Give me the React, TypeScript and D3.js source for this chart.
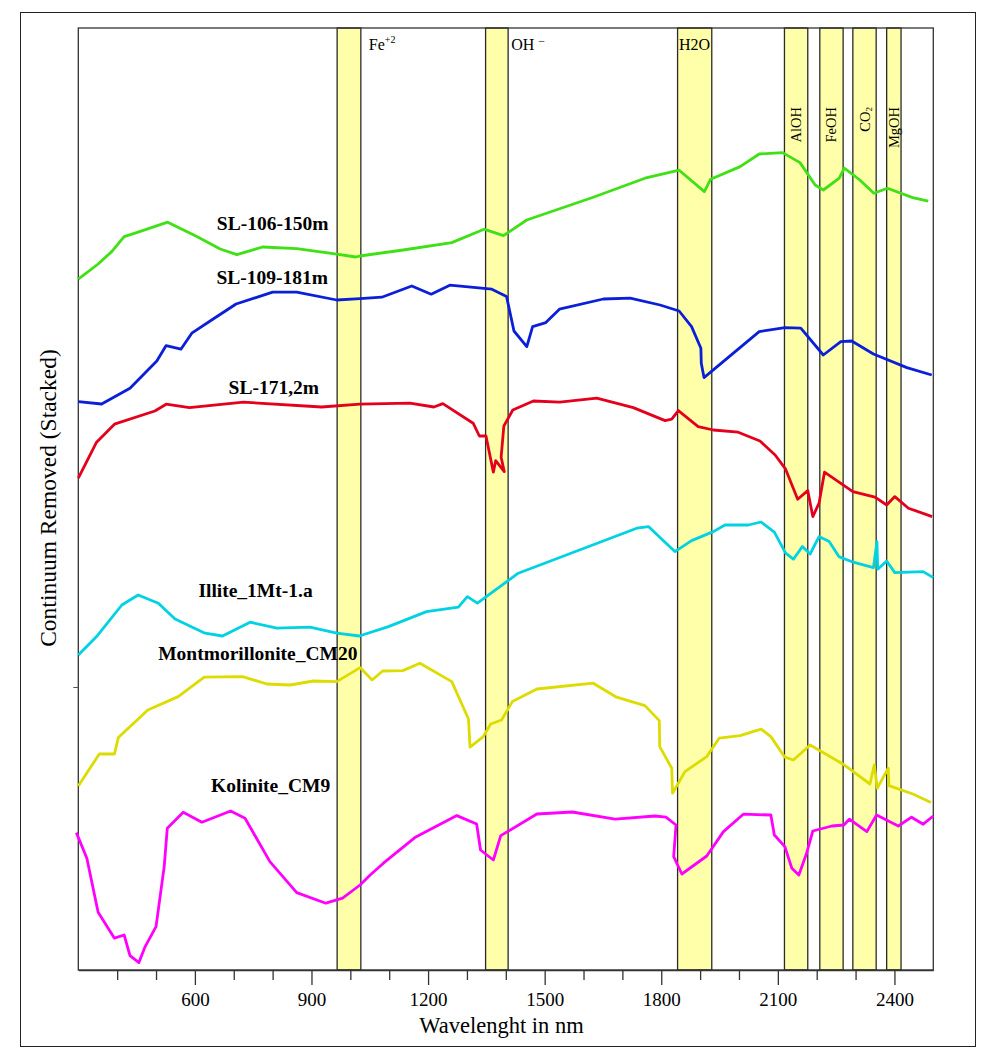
import React, { useEffect, useRef } from 'react';
import * as d3 from 'd3';

// spectra, [wavelength nm, stacked continuum-removed value]
const sl106 = [
  [300, 3.454], [351, 3.53], [386, 3.592], [418, 3.667], [450, 3.687], [530, 3.739],
  [605, 3.667], [665, 3.605], [708, 3.577], [774, 3.615], [862, 3.607], [965, 3.579],
  [1014, 3.565], [1025, 3.57], [1136, 3.6], [1261, 3.637], [1344, 3.704], [1394, 3.672],
  [1454, 3.75], [1625, 3.864], [1758, 3.959], [1846, 3.999], [1911, 3.892], [1927, 3.954],
  [2003, 4.017], [2052, 4.08], [2112, 4.087], [2157, 4.037], [2196, 3.925], [2217, 3.9],
  [2258, 3.959], [2271, 4.009], [2311, 3.95], [2347, 3.884], [2382, 3.909], [2447, 3.862],
  [2487, 3.844],
];
const sl109 = [
  [300, 2.842], [360, 2.83], [433, 2.909], [502, 3.045], [526, 3.122], [564, 3.104],
  [592, 3.184], [647, 3.255], [706, 3.33], [800, 3.389], [862, 3.389], [965, 3.35],
  [1025, 3.357], [1081, 3.364], [1158, 3.42], [1208, 3.379], [1256, 3.424], [1364, 3.404],
  [1402, 3.367], [1421, 3.195], [1454, 3.117], [1469, 3.217], [1503, 3.237], [1538, 3.304],
  [1651, 3.355], [1720, 3.359], [1797, 3.325], [1846, 3.295], [1878, 3.217], [1902, 3.109],
  [1903, 3.034], [1910, 2.962], [2052, 3.192], [2118, 3.212], [2159, 3.209], [2217, 3.075],
  [2262, 3.142], [2290, 3.145], [2346, 3.08], [2432, 3.012], [2496, 2.975],
];
const sl171 = [
  [300, 2.459], [347, 2.639], [393, 2.729], [497, 2.795], [526, 2.829], [586, 2.812],
  [725, 2.839], [926, 2.815], [1025, 2.829], [1153, 2.834], [1215, 2.815], [1238, 2.832],
  [1316, 2.734], [1332, 2.67], [1349, 2.67], [1368, 2.489], [1374, 2.547], [1396, 2.492],
  [1388, 2.564], [1395, 2.72], [1418, 2.8], [1471, 2.845], [1539, 2.839], [1634, 2.859],
  [1728, 2.812], [1810, 2.747], [1827, 2.754], [1844, 2.797], [1895, 2.717], [1934, 2.7],
  [1998, 2.689], [2054, 2.645], [2093, 2.575], [2120, 2.504], [2151, 2.354], [2177, 2.397],
  [2190, 2.267], [2206, 2.334], [2220, 2.489], [2293, 2.392], [2350, 2.364], [2380, 2.325],
  [2401, 2.367], [2436, 2.309], [2497, 2.267],
];
const illite = [
  [300, 1.575], [347, 1.667], [412, 1.825], [454, 1.875], [506, 1.834], [549, 1.755],
  [626, 1.684], [671, 1.67], [742, 1.739], [811, 1.709], [896, 1.714], [965, 1.684],
  [1023, 1.67], [1098, 1.717], [1196, 1.792], [1278, 1.814], [1301, 1.867], [1327, 1.834],
  [1432, 1.984], [1737, 2.209], [1767, 2.217], [1835, 2.092], [1878, 2.147], [1934, 2.192],
  [1964, 2.225], [2024, 2.225], [2057, 2.24], [2091, 2.189], [2120, 2.084], [2140, 2.054],
  [2163, 2.117], [2183, 2.08], [2206, 2.167], [2232, 2.142], [2257, 2.067], [2294, 2.039],
  [2346, 2.012], [2355, 2.142], [2357, 2.004], [2380, 2.045], [2401, 1.987], [2474, 1.992],
  [2500, 1.962],
];
const montmorillonite = [
  [300, 0.92], [354, 1.08], [393, 1.08], [403, 1.162], [479, 1.3], [557, 1.367],
  [624, 1.464], [723, 1.467], [785, 1.43], [845, 1.425], [905, 1.445], [965, 1.442],
  [1025, 1.512], [1056, 1.45], [1083, 1.495], [1135, 1.497], [1179, 1.534], [1261, 1.442],
  [1304, 1.255], [1308, 1.114], [1342, 1.167], [1361, 1.23], [1389, 1.25], [1417, 1.342],
  [1480, 1.405], [1625, 1.434], [1685, 1.364], [1758, 1.322], [1795, 1.247], [1796, 1.117],
  [1827, 1.009], [1829, 0.884], [1861, 0.992], [1917, 1.067], [1949, 1.159], [2003, 1.172],
  [2057, 1.204], [2082, 1.167], [2118, 1.064], [2140, 1.05], [2183, 1.125], [2268, 1.029],
  [2337, 0.93], [2348, 1.025], [2356, 0.909], [2384, 1.009], [2386, 0.922], [2449, 0.879],
  [2494, 0.837],
];
const kolinite = [
  [295, 0.687], [322, 0.559], [351, 0.289], [393, 0.159], [418, 0.175], [433, 0.072],
  [456, 0.037], [472, 0.117], [500, 0.217], [521, 0.517], [529, 0.709], [570, 0.789],
  [618, 0.739], [692, 0.795], [729, 0.759], [793, 0.542], [862, 0.387], [937, 0.334],
  [980, 0.359], [1025, 0.425], [1051, 0.475], [1085, 0.534], [1166, 0.662], [1274, 0.772],
  [1325, 0.73], [1335, 0.6], [1368, 0.55], [1387, 0.672], [1480, 0.78], [1571, 0.79],
  [1681, 0.754], [1784, 0.77], [1812, 0.764], [1838, 0.725], [1832, 0.567], [1853, 0.48],
  [1917, 0.57], [1960, 0.692], [2011, 0.779], [2082, 0.775], [2091, 0.675], [2118, 0.617],
  [2136, 0.509], [2154, 0.475], [2174, 0.584], [2190, 0.695], [2239, 0.72], [2270, 0.725],
  [2284, 0.754], [2329, 0.692], [2354, 0.775], [2410, 0.72], [2444, 0.764], [2474, 0.729],
  [2500, 0.77],
];

const seriesNames = ['SL-106-150m', 'SL-109-181m', 'SL-171,2m', 'Illite_1Mt-1.a', 'Montmorillonite_CM20', 'Kolinite_CM9'];
const seriesData = [sl106, sl109, sl171, illite, montmorillonite, kolinite];
const seriesColors = ['#3fe014', '#0b1fd8', '#e4001c', '#00d2e2', '#dcdc00', '#ff00ff'];

// absorption features
const bandNames = ['Fe', 'OH', 'H2O', 'AlOH', 'FeOH', 'CO2', 'MgOH'];
const bandStart = [966, 1348, 1842, 2117, 2208, 2293, 2380];
const bandEnd = [1027, 1406, 1930, 2177, 2268, 2353, 2417];

const majorTicks = [600, 900, 1200, 1500, 1800, 2100, 2400];
const minorTicks = [400, 500, 700, 800, 1000, 1100, 1300, 1400, 1600, 1700, 1900, 2000, 2200, 2300];

const W = 991;
const H = 1054;
const FONT = "'Liberation Serif', 'Times New Roman', serif";

export default function App() {
  const svgRef = useRef(null);

  useEffect(() => {
    const svg = d3.select(svgRef.current);
    svg.selectAll('*').remove();

    const left = 78.3, right = 933.3, top = 28, bottom = 970;
    const x = d3.scaleLinear().domain([300, 2500]).range([left, right]);
    const y = d3.scaleLinear().domain([0, 4.71]).range([bottom, top]);

    // outer frame
    svg.append('rect')
      .attr('x', 20.5).attr('y', 12.5)
      .attr('width', 955).attr('height', 1034)
      .attr('fill', 'none').attr('stroke', '#222').attr('stroke-width', 1);

    // bands
    const bands = svg.append('g');
    bandNames.forEach((n, i) => {
      bands.append('rect')
        .attr('x', x(bandStart[i]))
        .attr('y', top)
        .attr('width', x(bandEnd[i]) - x(bandStart[i]))
        .attr('height', bottom - top)
        .attr('fill', '#ffffaa')
        .attr('stroke', '#2a2a2a')
        .attr('stroke-width', 1.3);
    });

    // plot box
    svg.append('rect')
      .attr('x', left).attr('y', top)
      .attr('width', right - left).attr('height', bottom - top)
      .attr('fill', 'none').attr('stroke', '#333').attr('stroke-width', 1.3);

    // spectra
    const line = d3.line()
      .x(d => x(d[0]))
      .y(d => y(d[1]));

    seriesData.forEach((s, i) => {
      svg.append('path')
        .datum(s)
        .attr('fill', 'none')
        .attr('stroke', seriesColors[i])
        .attr('stroke-width', 2.8)
        .attr('stroke-linejoin', 'round')
        .attr('d', line);
    });

    // series labels
    const labelPos = [[800, 3.70], [799, 3.43], [803, 2.88], [756, 1.867], [762, 1.548], [795, 0.89]];
    seriesNames.forEach((n, i) => {
      svg.append('text')
        .attr('x', x(labelPos[i][0]))
        .attr('y', y(labelPos[i][1]))
        .attr('text-anchor', 'middle')
        .attr('font-family', FONT)
        .attr('font-weight', 'bold')
        .attr('font-size', 19.5)
        .text(n);
    });

    // band labels (horizontal)
    const fe = svg.append('text')
      .attr('x', x(bandEnd[0]) + 8).attr('y', 50)
      .attr('font-family', FONT).attr('font-size', 16);
    fe.append('tspan').text('Fe');
    fe.append('tspan').attr('font-size', 10).attr('dy', -7).text('+2');

    const oh = svg.append('text')
      .attr('x', x(bandEnd[1]) + 3).attr('y', 50)
      .attr('font-family', FONT).attr('font-size', 16);
    oh.append('tspan').text('OH ');
    oh.append('tspan').attr('font-size', 12).attr('dy', -5).text('\u2212');

    svg.append('text')
      .attr('x', x(bandStart[2]) + 1.5).attr('y', 50)
      .attr('font-family', FONT).attr('font-size', 16)
      .text('H2O');

    // band labels (rotated)
    [3, 4, 5, 6].forEach(i => {
      const cx = (x(bandStart[i]) + x(bandEnd[i])) / 2 + 5;
      const t = svg.append('text')
        .attr('transform', `translate(${cx},107) rotate(-90)`)
        .attr('text-anchor', 'end')
        .attr('font-family', FONT)
        .attr('font-size', 14.5);
      if (bandNames[i] === 'CO2') {
        t.append('tspan').text('CO');
        t.append('tspan').attr('font-size', 9).attr('dy', 2).text('2');
      } else {
        t.text(bandNames[i]);
      }
    });

    // x axis
    const axisMajor = d3.axisBottom(x)
      .tickValues(majorTicks)
      .tickSize(15)
      .tickSizeOuter(0)
      .tickPadding(8)
      .tickFormat(d3.format('d'));
    const gx = svg.append('g')
      .attr('transform', `translate(0,${bottom})`)
      .call(axisMajor);
    gx.select('.domain').attr('stroke', '#333').attr('stroke-width', 1.3);
    gx.selectAll('.tick line').attr('stroke', '#333').attr('stroke-width', 1.3);
    gx.selectAll('.tick text')
      .attr('font-family', FONT).attr('font-size', 19).attr('fill', '#000');

    const gxm = svg.append('g')
      .attr('transform', `translate(0,${bottom})`)
      .call(d3.axisBottom(x).tickValues(minorTicks).tickSize(10).tickSizeOuter(0).tickFormat(() => ''));
    gxm.select('.domain').remove();
    gxm.selectAll('.tick line').attr('stroke', '#333').attr('stroke-width', 1.3);

    // y axis single tick
    const gy = svg.append('g')
      .attr('transform', `translate(${left},0)`)
      .call(d3.axisLeft(y).tickValues([1.415]).tickSize(5).tickSizeOuter(0).tickFormat(() => ''));
    gy.select('.domain').remove();
    gy.selectAll('.tick line').attr('stroke', '#555');

    // axis titles
    svg.append('text')
      .attr('x', 501.5)
      .attr('y', 1033)
      .attr('text-anchor', 'middle')
      .attr('font-family', FONT)
      .attr('font-size', 22.5)
      .text('Wavelenght in nm');

    svg.append('text')
      .attr('transform', `translate(56,498) rotate(-90)`)
      .attr('text-anchor', 'middle')
      .attr('font-family', FONT)
      .attr('font-size', 23.5)
      .text('Continuum Removed (Stacked)');
  }, []);

  return (
    <svg
      ref={svgRef}
      width={W}
      height={H}
      style={{ position: 'absolute', left: 0, top: 0, background: '#fff' }}
    />
  );
}
